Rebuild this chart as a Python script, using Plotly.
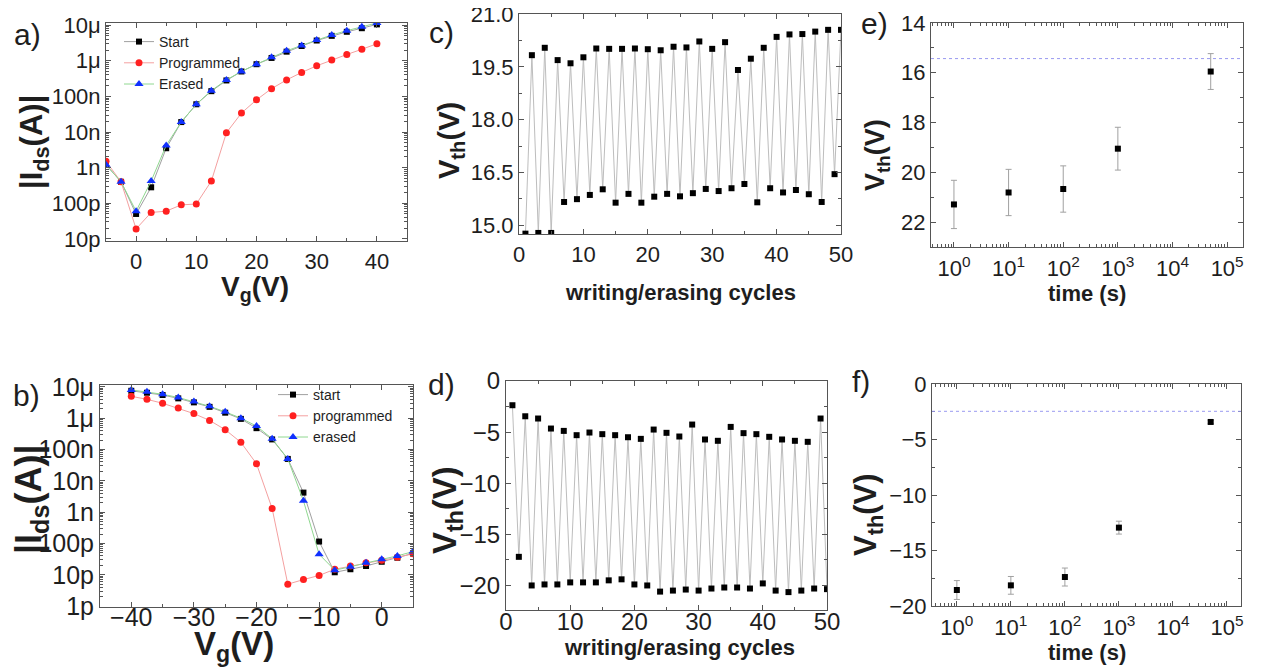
import plotly.graph_objects as go

# ---------------- data ----------------
a_vg = [-5, -2.5, 0, 2.5, 5, 7.5, 10, 12.5, 15, 17.5, 20, 22.5, 25, 27.5, 30, 32.5, 35, 37.5, 40]
a_start = [1.2e-9, 4.0e-10, 5.0e-11, 2.8e-10, 3.5e-9, 1.9e-8, 6.0e-8, 1.4e-7, 2.8e-7, 5.0e-7,
           8.0e-7, 1.2e-6, 1.8e-6, 2.6e-6, 3.7e-6, 5.0e-6, 6.5e-6, 8.2e-6, 1.05e-5]
a_prog = [1.5e-9, 4.0e-10, 1.9e-11, 5.5e-11, 6.0e-11, 9.0e-11, 9.5e-11, 4.2e-10, 9.5e-9, 3.4e-8,
          8.0e-8, 1.65e-7, 2.9e-7, 4.7e-7, 7.2e-7, 1.05e-6, 1.5e-6, 2.1e-6, 3.0e-6]
a_erased = [1.2e-9, 4.0e-10, 6.0e-11, 4.2e-10, 4.2e-9, 1.9e-8, 6.0e-8, 1.45e-7, 2.9e-7, 5.0e-7,
            8.0e-7, 1.25e-6, 1.9e-6, 2.7e-6, 3.8e-6, 5.3e-6, 7.0e-6, 9.0e-6, 1.15e-5]

b_vg = [-40, -37.5, -35, -32.5, -30, -27.5, -25, -22.5, -20, -17.5, -15, -12.5, -10, -7.5, -5, -2.5, 0, 2.5, 5]
b_start = [7.5e-6, 6.5e-6, 5.5e-6, 4.3e-6, 3.2e-6, 2.3e-6, 1.5e-6, 9.5e-7, 4.8e-7, 2.1e-7,
           5.0e-8, 4.2e-9, 1.15e-10, 1.2e-11, 1.5e-11, 1.9e-11, 2.6e-11, 3.5e-11, 4.8e-11]
b_prog = [5.0e-6, 4.0e-6, 3.0e-6, 2.1e-6, 1.4e-6, 8.5e-7, 4.3e-7, 1.7e-7, 3.5e-8, 1.3e-9,
          5.0e-12, 7.0e-12, 9.5e-12, 1.5e-11, 1.9e-11, 2.4e-11, 2.9e-11, 3.6e-11, 4.7e-11]
b_erased = [8.0e-6, 7.0e-6, 5.8e-6, 4.6e-6, 3.4e-6, 2.4e-6, 1.6e-6, 1.0e-6, 5.6e-7, 2.2e-7,
            5.0e-8, 2.3e-9, 4.5e-11, 1.4e-11, 1.8e-11, 2.4e-11, 3.1e-11, 4.0e-11, 5.5e-11]

cycles = list(range(1, 51))
c_vth = [14.76, 19.83, 14.78, 20.04, 14.78, 19.69, 15.66, 19.60, 15.74, 19.77,
         15.86, 20.02, 16.02, 20.01, 15.64, 20.01, 15.89, 20.02, 15.64, 20.00,
         15.81, 19.97, 15.89, 20.07, 15.82, 20.05, 15.91, 20.22, 16.03, 20.01,
         15.97, 20.20, 16.05, 19.41, 16.17, 19.73, 15.65, 20.04, 16.05, 20.35,
         15.93, 20.42, 16.00, 20.43, 15.88, 20.50, 15.66, 20.55, 16.45, 20.55]
d_vth = [-2.37, -17.2, -3.45, -20.0, -3.67, -19.9, -4.65, -19.9, -4.88, -19.7,
         -5.30, -19.7, -5.04, -19.7, -5.20, -19.5, -5.30, -19.4, -5.50, -19.9,
         -5.66, -20.0, -4.75, -20.6, -5.07, -20.5, -5.43, -20.4, -4.26, -20.5,
         -5.72, -20.3, -5.85, -20.2, -4.49, -20.2, -5.10, -20.3, -5.20, -19.8,
         -5.46, -20.5, -5.72, -20.65, -5.85, -20.5, -5.95, -20.3, -3.67, -20.36]

ret_time = [1, 10, 100, 1000, 50000]
e_vth = [21.29, 20.81, 20.67, 19.05, 15.95]
e_err = [0.97, 0.93, 0.93, 0.86, 0.72]
e_ref = 15.43
f_vth = [-18.56, -18.14, -17.39, -12.94, -3.42]
f_err = [0.85, 0.80, 0.81, 0.58, 0.15]
f_ref = -2.46

log_i_vals = [1e-12, 1e-11, 1e-10, 1e-9, 1e-8, 1e-7, 1e-6, 1e-5]
log_i_text = ["1p", "10p", "100p", "1n", "10n", "100n", "1μ", "10μ"]
time_vals = [1, 10, 100, 1000, 10000, 100000]
time_text = ["10<sup>%d</sup>" % i for i in range(6)]

# ---------------- style ----------------
# the page body adds an 8 px margin, so the figure is sized to fill the rest of the window
OFF = 8
W, H = 1261 - OFF, 672 - OFF
FONT = "Liberation Sans, Arial, sans-serif"
AX = "#555555"
TXT = "#1e1e1e"


def px_x(p):
    return (p - OFF) / W


def px_y(p):
    return 1 - (p - OFF) / H


def minor_log(lo, hi):
    out = []
    for e in range(lo, hi):
        for k in range(2, 10):
            out.append(k * 10 ** e)
    return out


def base_axis(domain, anchor, fs, standoff=0):
    return dict(domain=domain, anchor=anchor, showline=True, linecolor=AX, linewidth=1,
                mirror="allticks", ticks="inside", ticklen=5, tickwidth=1, tickcolor=AX,
                showgrid=False, zeroline=False, automargin=False,
                ticklabelstandoff=standoff, ticklabeloverflow="allow",
                tickfont=dict(family=FONT, size=fs, color=TXT))


fig = go.Figure()

# panel a
fig.add_trace(go.Scatter(x=a_vg, y=a_start, name="Start", mode="lines+markers",
                         line=dict(color="#a0a0a0", width=1),
                         marker=dict(symbol="square", size=6, color="black"),
                         xaxis="x", yaxis="y", legend="legend"))
fig.add_trace(go.Scatter(x=a_vg, y=a_prog, name="Programmed", mode="lines+markers",
                         line=dict(color="#f4a0a0", width=1),
                         marker=dict(symbol="circle", size=7, color="#ff2020"),
                         xaxis="x", yaxis="y", legend="legend"))
fig.add_trace(go.Scatter(x=a_vg, y=a_erased, name="Erased", mode="lines+markers",
                         line=dict(color="#90d890", width=1),
                         marker=dict(symbol="triangle-up", size=8, color="#1030ff"),
                         xaxis="x", yaxis="y", legend="legend"))
# panel b
fig.add_trace(go.Scatter(x=b_vg, y=b_start, name="start", mode="lines+markers",
                         line=dict(color="#a0a0a0", width=1),
                         marker=dict(symbol="square", size=6, color="black"),
                         xaxis="x2", yaxis="y2", legend="legend2"))
fig.add_trace(go.Scatter(x=b_vg, y=b_prog, name="programmed", mode="lines+markers",
                         line=dict(color="#f4a0a0", width=1),
                         marker=dict(symbol="circle", size=7, color="#ff2020"),
                         xaxis="x2", yaxis="y2", legend="legend2"))
fig.add_trace(go.Scatter(x=b_vg, y=b_erased, name="erased", mode="lines+markers",
                         line=dict(color="#90d890", width=1),
                         marker=dict(symbol="triangle-up", size=8, color="#1030ff"),
                         xaxis="x2", yaxis="y2", legend="legend2"))
# panel c, d
fig.add_trace(go.Scatter(x=cycles, y=c_vth, mode="lines+markers", showlegend=False,
                         line=dict(color="#bdbdbd", width=1),
                         marker=dict(symbol="square", size=6, color="black"),
                         xaxis="x3", yaxis="y3"))
fig.add_trace(go.Scatter(x=cycles, y=d_vth, mode="lines+markers", showlegend=False,
                         line=dict(color="#bdbdbd", width=1),
                         marker=dict(symbol="square", size=6, color="black"),
                         xaxis="x4", yaxis="y4"))
# panel e, f
fig.add_trace(go.Scatter(x=ret_time, y=e_vth, mode="markers", showlegend=False,
                         error_y=dict(type="data", array=e_err, color="#a0a0a0", thickness=1, width=3),
                         marker=dict(symbol="square", size=6, color="black"),
                         xaxis="x5", yaxis="y5"))
fig.add_trace(go.Scatter(x=ret_time, y=f_vth, mode="markers", showlegend=False,
                         error_y=dict(type="data", array=f_err, color="#a0a0a0", thickness=1, width=3),
                         marker=dict(symbol="square", size=6, color="black"),
                         xaxis="x6", yaxis="y6"))

# reference lines (dotted)
fig.add_shape(type="line", xref="x5 domain", yref="y5", x0=0, x1=1, y0=e_ref, y1=e_ref,
              line=dict(color="#9a9af0", width=1, dash="dot"))
fig.add_shape(type="line", xref="x6 domain", yref="y6", x0=0, x1=1, y0=f_ref, y1=f_ref,
              line=dict(color="#9a9af0", width=1, dash="dot"))

# ---------------- axes ----------------
lay = {}
# a
xa = base_axis([px_x(106), px_x(407)], "y", 22, 1)
xa.update(range=[-5, 45], tickmode="linear", tick0=0, dtick=10,
          minor=dict(ticks="inside", ticklen=3, tickcolor=AX, dtick=5, tick0=0))
ya = base_axis([px_y(241), px_y(23)], "x", 22)
ya.update(type="log", range=[-11.06, -4.94], tickmode="array", tickvals=log_i_vals, ticktext=log_i_text,
          minor=dict(ticks="inside", ticklen=3, tickcolor=AX, tickmode="array", tickvals=minor_log(-12, -4)))
# b
xb = base_axis([px_x(100), px_x(413)], "y2", 25, -12)
xb.update(range=[-45, 5], tickmode="linear", tick0=0, dtick=10,
          minor=dict(ticks="inside", ticklen=3, tickcolor=AX, dtick=5, tick0=0))
yb = base_axis([px_y(607), px_y(385)], "x2", 25)
yb.update(type="log", range=[-12.03, -4.94], tickmode="array", tickvals=log_i_vals, ticktext=log_i_text,
          minor=dict(ticks="inside", ticklen=3, tickcolor=AX, tickmode="array", tickvals=minor_log(-12, -4)))
# c
xc = base_axis([px_x(519), px_x(841)], "y3", 22, 1)
xc.update(range=[0, 50], tickmode="linear", tick0=0, dtick=10,
          minor=dict(ticks="inside", ticklen=3, tickcolor=AX, dtick=5, tick0=0))
yc = base_axis([px_y(234), px_y(14)], "x3", 22)
yc.update(range=[14.75, 21.0], tickmode="linear", tick0=15, dtick=1.5, tickformat=".1f",
          minor=dict(ticks="inside", ticklen=3, tickcolor=AX, dtick=0.75, tick0=15))
# d
xd = base_axis([px_x(506), px_x(827)], "y4", 24, -10)
xd.update(range=[0, 50], tickmode="linear", tick0=0, dtick=10,
          minor=dict(ticks="inside", ticklen=3, tickcolor=AX, dtick=5, tick0=0))
yd = base_axis([px_y(610), px_y(381)], "x4", 24)
yd.update(range=[-22.4, 0], tickmode="linear", tick0=0, dtick=5,
          minor=dict(ticks="inside", ticklen=3, tickcolor=AX, dtick=2.5, tick0=0))
# e
xe = base_axis([px_x(931), px_x(1243)], "y5", 22, 2)
xe.update(type="log", range=[-0.42, 5.29], tickmode="array", tickvals=time_vals, ticktext=time_text,
          minor=dict(ticks="inside", ticklen=3, tickcolor=AX, tickmode="array", tickvals=minor_log(-1, 6)))
ye = base_axis([px_y(247), px_y(23)], "x5", 22)
ye.update(range=[23, 14], tickmode="linear", tick0=14, dtick=2,
          minor=dict(ticks="inside", ticklen=3, tickcolor=AX, dtick=1, tick0=14))
# f
xf = base_axis([px_x(932), px_x(1241)], "y6", 22, 2)
xf.update(type="log", range=[-0.46, 5.26], tickmode="array", tickvals=time_vals, ticktext=time_text,
          minor=dict(ticks="inside", ticklen=3, tickcolor=AX, tickmode="array", tickvals=minor_log(-1, 6)))
yf = base_axis([px_y(606), px_y(384)], "x6", 22)
yf.update(range=[-20, 0], tickmode="linear", tick0=0, dtick=5,
          minor=dict(ticks="inside", ticklen=3, tickcolor=AX, dtick=2.5, tick0=0))

lay.update(xaxis=xa, yaxis=ya, xaxis2=xb, yaxis2=yb, xaxis3=xc, yaxis3=yc,
           xaxis4=xd, yaxis4=yd, xaxis5=xe, yaxis5=ye, xaxis6=xf, yaxis6=yf)

# ---------------- text ----------------
ann = []


def add_text(txt, xp, yp, size, bold=False, angle=0):
    t = "<b>%s</b>" % txt if bold else txt
    ann.append(dict(text=t, x=px_x(xp), y=px_y(yp), xref="paper", yref="paper",
                    xanchor="center", yanchor="middle", showarrow=False, textangle=angle,
                    font=dict(family=FONT, size=size, color=TXT)))


# panel labels
add_text("a)", 27, 34, 30)
add_text("b)", 26, 395, 30)
add_text("c)", 441, 32, 30)
add_text("d)", 441, 384, 30)
add_text("e)", 874, 24, 30)
add_text("f)", 861, 381, 30)
# axis titles
add_text("V<sub>g</sub>(V)", 255, 288, 28, bold=True)
add_text("|I<sub>ds</sub>(A)|", 34, 142, 31, bold=True, angle=-90)
add_text("V<sub>g</sub>(V)", 234, 646, 33, bold=True)
add_text("|I<sub>ds</sub>(A)|", 31, 499, 36, bold=True, angle=-90)
add_text("writing/erasing cycles", 680, 292, 22, bold=True)
add_text("V<sub>th</sub>(V)", 451, 140, 29, bold=True, angle=-90)
add_text("writing/erasing cycles", 679, 647, 22, bold=True)
add_text("V<sub>th</sub>(V)", 447, 510, 33, bold=True, angle=-90)
add_text("time (s)", 1087, 293, 22, bold=True)
add_text("V<sub>th</sub>(V)", 877, 155, 27, bold=True, angle=-90)
add_text("time (s)", 1087, 652, 22, bold=True)
add_text("V<sub>th</sub>(V)", 868, 515, 31, bold=True, angle=-90)

lay.update(
    width=W, height=H, autosize=False,
    margin=dict(l=0, r=0, t=0, b=0, pad=0, autoexpand=False),
    paper_bgcolor="white", plot_bgcolor="white",
    annotations=ann,
    legend=dict(x=px_x(119), y=px_y(26), xanchor="left", yanchor="top",
                bgcolor="rgba(0,0,0,0)", borderwidth=0, tracegroupgap=0,
                font=dict(family=FONT, size=14, color=TXT)),
    legend2=dict(x=px_x(273), y=px_y(379), xanchor="left", yanchor="top",
                 bgcolor="rgba(0,0,0,0)", borderwidth=0, tracegroupgap=0,
                 font=dict(family=FONT, size=14, color=TXT)),
)
fig.update_layout(**lay)
fig.write_html("out.html")
